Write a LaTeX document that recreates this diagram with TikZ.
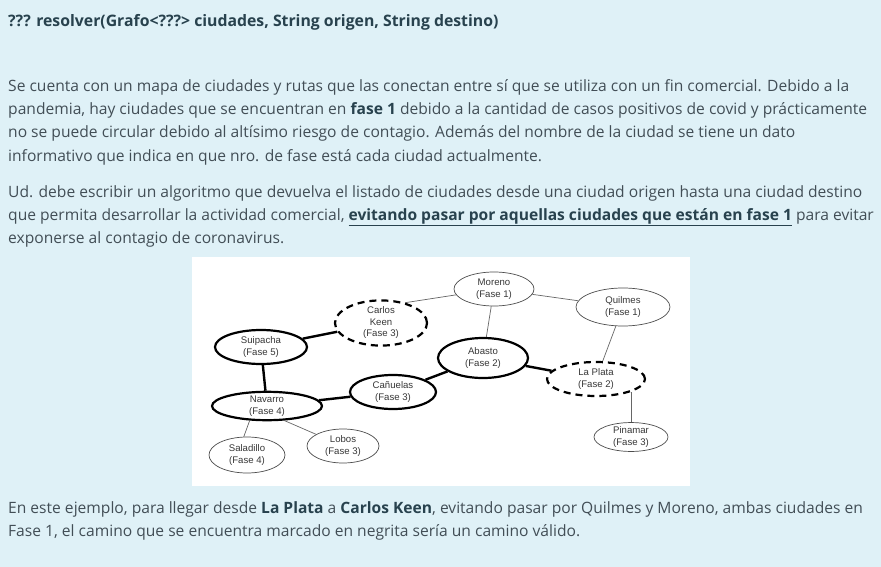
\documentclass[tikz,border=0pt]{standalone}
\usepackage{fontspec}
\setmainfont{Open Sans}
\newfontfamily\grafofont{Liberation Sans}
\usetikzlibrary{shapes.geometric}
\definecolor{fondo}{RGB}{223,241,247}
\definecolor{texto}{RGB}{66,78,86}
\definecolor{negrita}{RGB}{40,66,78}
\definecolor{nodotxt}{RGB}{55,55,55}
\begin{document}
\begin{tikzpicture}[x=1pt, y=-1pt,
    linea/.style={anchor=base west, inner sep=0pt, text=texto, font=\fontsize{15.6}{18}\selectfont},
    ciudad/.style={ellipse, draw=black!70, line width=0.7pt, inner sep=0pt, align=center, text=nodotxt, font=\grafofont\fontsize{9.6}{11.5}\selectfont},
    marcada/.style={ciudad, draw=black, line width=2.2pt},
    fase3/.style={marcada, dash pattern=on 7pt off 5pt},
    ruta/.style={draw=black!60, line width=0.7pt},
    camino/.style={draw=black, line width=2.4pt}]
    \fill[fondo] (0,0) rectangle (881,567);
    \useasboundingbox (0,0) rectangle (881,567);
    % enunciado
    \node[linea, text=negrita, font=\bfseries\fontsize{15.8}{18}\selectfont] (titulo) at (8,27) {??? resolver(Grafo<???> ciudades, String origen, String destino)};
    \node[linea] (p1a) at (8,92) {Se cuenta con un mapa de ciudades y rutas que las conectan entre sí que se utiliza con un fin comercial. Debido a la};
    \node[linea] (p1b) at (8,115) {pandemia, hay ciudades que se encuentran en \textcolor{negrita}{\bfseries fase 1} debido a la cantidad de casos positivos de covid y prácticamente};
    \node[linea] (p1c) at (8,138) {no se puede circular debido al altísimo riesgo de contagio. Además del nombre de la ciudad se tiene un dato};
    \node[linea] (p1d) at (8,161) {informativo que indica en que nro. de fase está cada ciudad actualmente.};
    \node[linea] (p2a) at (8,197) {Ud. debe escribir un algoritmo que devuelva el listado de ciudades desde una ciudad origen hasta una ciudad destino};
    \node[linea] (p2b) at (8,220) {que permita desarrollar la actividad comercial, \textcolor{negrita}{\bfseries\underline{evitando pasar por aquellas ciudades que están en fase 1}} para evitar};
    \node[linea] (p2c) at (8,243) {exponerse al contagio de coronavirus.};
    % grafo
    \fill[white] (192,257) rectangle (690,486);
    \node[ciudad, minimum width=80, minimum height=34] (moreno) at (494,289) {Moreno\\(Fase 1)};
    \node[ciudad, minimum width=94, minimum height=38] (quilmes) at (623,307) {Quilmes\\(Fase 1)};
    \node[marcada, minimum width=90, minimum height=40] (abasto) at (483,358) {Abasto\\(Fase 2)};
    \node[fase3, minimum width=98, minimum height=34] (laplata) at (596,379) {La Plata\\(Fase 2)};
    \node[ciudad, minimum width=74, minimum height=26] (pinamar) at (631,437) {Pinamar\\(Fase 3)};
    \node[fase3, minimum width=92, minimum height=40] (carlos) at (381,323) {Carlos\\Keen\\(Fase 3)};
    \node[marcada, minimum width=92, minimum height=34] (suipacha) at (261,347) {Suipacha\\(Fase 5)};
    \node[marcada, minimum width=110, minimum height=26] (navarro) at (267,406) {Navarro\\(Fase 4)};
    \node[marcada, minimum width=86, minimum height=34] (canuelas) at (393,392) {Cañuelas\\(Fase 3)};
    \node[ciudad, minimum width=76, minimum height=36] (saladillo) at (247,455) {Saladillo\\(Fase 4)};
    \node[ciudad, minimum width=72, minimum height=34] (lobos) at (343,446) {Lobos\\(Fase 3)};
    \draw[ruta] (moreno) -- (carlos.40);
    \draw[ruta] (moreno) -- (abasto);
    \draw[ruta] (moreno) -- (quilmes);
    \draw[ruta] (quilmes) -- (laplata);
    \draw[ruta] (pinamar.north) -- (laplata.-20 -| pinamar.north);
    \draw[ruta] (navarro.-140) -- (saladillo.100);
    \draw[ruta] (navarro.-40) -- (lobos);
    \draw[camino] (laplata) -- (abasto);
    \draw[camino] (abasto) -- (canuelas);
    \draw[camino] (canuelas) -- (navarro);
    \draw[camino] (navarro) -- (suipacha);
    \draw[camino] (suipacha) -- (carlos);
    % ejemplo
    \node[linea] (p3a) at (8,513) {En este ejemplo, para llegar desde \textcolor{negrita}{\bfseries La Plata} a \textcolor{negrita}{\bfseries Carlos Keen}, evitando pasar por Quilmes y Moreno, ambas ciudades en};
    \node[linea] (p3b) at (8,536) {Fase 1, el camino que se encuentra marcado en negrita sería un camino válido.};
\end{tikzpicture}
\end{document}
